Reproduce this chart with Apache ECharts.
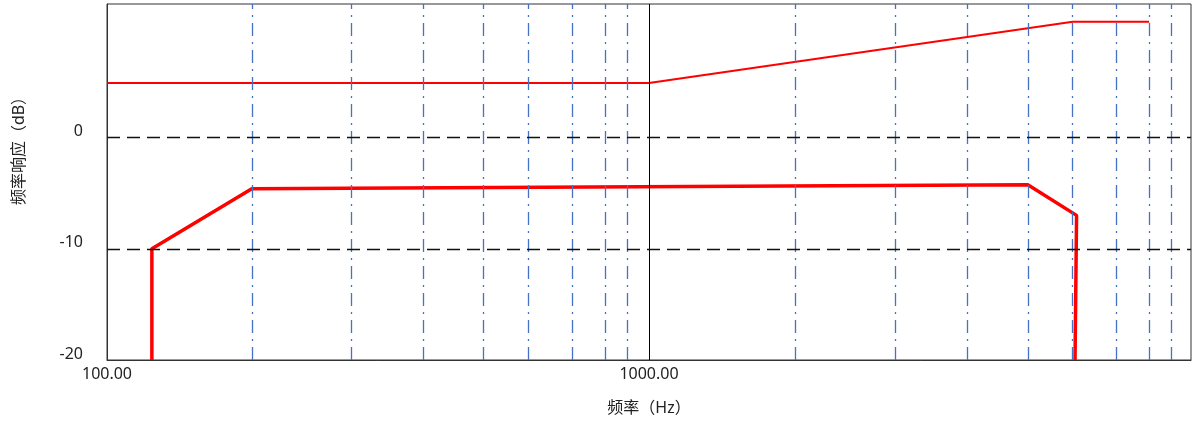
<!DOCTYPE html>
<html>
<head>
<meta charset="utf-8">
<script src="https://cdn.jsdelivr.net/npm/echarts@6/dist/echarts.min.js"></script>
<style>
html,body{margin:0;padding:0;background:#fff;}
#chart{width:1196px;height:423px;}
</style>
</head>
<body>
<div id="chart"></div>
<script>
// Frequency (Hz) / response (dB) points
const limitUpperX = [100, 1000, 6050, 8370];
const limitUpperY = [4.9, 4.9, 10.4, 10.4];
const responseX = [121, 121, 185, 5000, 6150, 6110];
const responseY = [-20, -10, -4.6, -4.25, -7.0, -20];
// Vertical dash-dot grid lines (Hz), as drawn in the reference
const xGridValues = [185, 282, 384, 495, 598, 721, 830, 912, 1860, 2844, 3861, 5000, 6050, 7270, 8370, 9200];
// Horizontal dashed reference lines (dB)
const yRefLines = [0, -10];
const yTickLabels = ['-20', '-10', '0'];

const chart = echarts.init(document.getElementById('chart'));
const font = 'Noto Sans, Noto Sans CJK SC, sans-serif';

function pairs(xs, ys) { return xs.map((x, i) => [x, ys[i]]); }

const option = {
  animation: false,
  backgroundColor: '#fff',
  grid: { left: 107, right: 5, top: 4, bottom: 63, show: true, borderColor: '#333', borderWidth: 1, backgroundColor: '#fff' },
  xAxis: {
    type: 'log', logBase: 10, min: 100, max: 10000,
    name: '频率（Hz）', nameLocation: 'middle', nameGap: 40,
    nameTextStyle: { fontFamily: font, fontSize: 16, color: '#222' },
    axisLine: { show: true, onZero: false, lineStyle: { color: '#333' } },
    axisTick: { show: false },
    splitLine: { show: false },
    axisLabel: {
      fontFamily: font, fontSize: 16, color: '#222', margin: 6,
      formatter: v => (v >= 10000 ? '' : Number(v).toFixed(2))
    }
  },
  yAxis: {
    type: 'value', min: -20, max: 12, interval: 10,
    name: '频率响应（dB）', nameLocation: 'middle', nameRotate: 90, nameGap: 80,
    nameTextStyle: { fontFamily: font, fontSize: 16, color: '#222', padding: [0, 0, 0, 70] },
    axisLine: { show: true, onZero: false, lineStyle: { color: '#333' } },
    axisTick: { show: false },
    splitLine: { show: false },
    axisLabel: {
      fontFamily: font, fontSize: 16, color: '#222', margin: 24,
      verticalAlign: 'bottom', lineHeight: 12,
      formatter: v => (yTickLabels.indexOf(String(v)) >= 0 ? String(v) : '')
    }
  },
  series: [
    {
      type: 'line', data: [], silent: true,
      markLine: {
        silent: true, symbol: 'none', label: { show: false },
        data: [
          ...xGridValues.map(v => ({ xAxis: v, lineStyle: { color: '#4472c4', width: 1.3, type: [13, 6, 2, 6] } })),
          { xAxis: 1000, lineStyle: { color: '#000', width: 1, type: 'solid' } },
          ...yRefLines.map(v => ({ yAxis: v, lineStyle: { color: '#111', width: 1.3, type: [13, 7] } }))
        ]
      }
    },
    {
      type: 'line', data: pairs(limitUpperX, limitUpperY), showSymbol: false, symbol: 'none',
      lineStyle: { color: '#ff0000', width: 2 }
    },
    {
      type: 'line', data: pairs(responseX, responseY), showSymbol: false, symbol: 'none',
      lineStyle: { color: '#ff0000', width: 3.5 }
    }
  ]
};
chart.setOption(option);
</script>
</body>
</html>
